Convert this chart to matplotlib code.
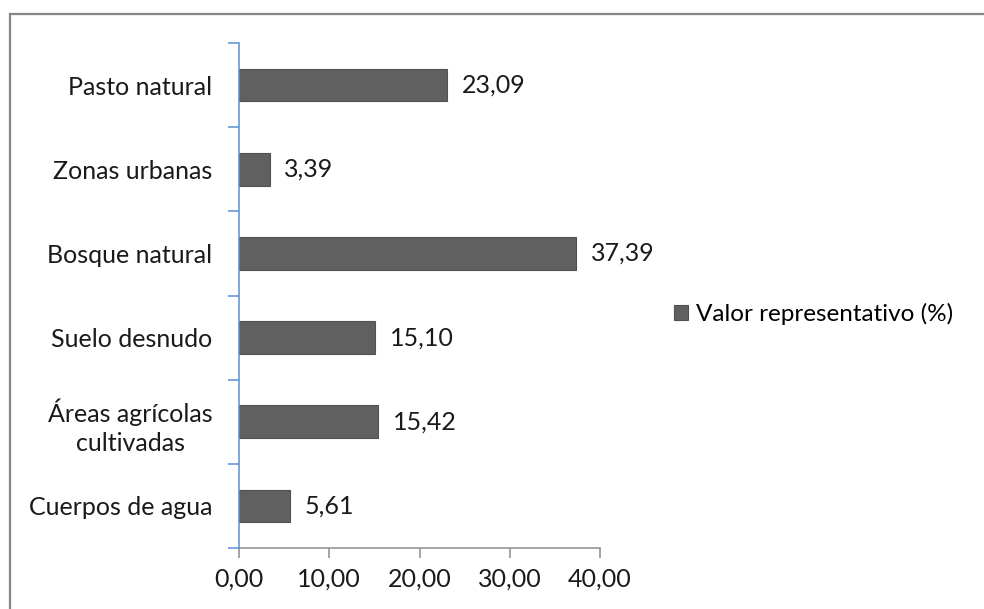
import matplotlib.pyplot as plt
from matplotlib.patches import Rectangle

categories = ["Cuerpos de agua", "Áreas agrícolas\ncultivadas", "Suelo desnudo",
              "Bosque natural", "Zonas urbanas", "Pasto natural"]
values = [5.61, 15.42, 15.10, 37.39, 3.39, 23.09]
xticks = [0, 10, 20, 30, 40]
series_name = "Valor representativo (%)"

plt.rcParams['font.family'] = ['Lato', 'DejaVu Sans']

fig = plt.figure(figsize=(9.84, 6.09), dpi=100)
ax = fig.add_axes([239/984, 1 - 548/609, 361/984, 505/609])

# chart frame like Excel
fig.patches.append(Rectangle((10/984, -0.1), 1.2, 1 - 14/609 + 0.1, transform=fig.transFigure,
                             fill=False, edgecolor='#868686', linewidth=1.6))

y = range(len(categories))
bars = ax.barh(y, values, height=0.39, color='#606060', edgecolor='#505050',
               linewidth=0.8, label=series_name)
for yi, v in zip(y, values):
    ax.text(v + 1.6, yi, f"{v:.2f}".replace('.', ','), va='center', ha='left',
            fontsize=18, color='#1a1a1a')

ax.set_xlim(0, 40)
ax.set_ylim(-0.5, len(categories) - 0.5)
ax.set_xticks(xticks)
ax.set_xticklabels([f"{t:.2f}".replace('.', ',') for t in xticks], fontsize=18, color='#1a1a1a')
ax.set_yticks(list(y))
ax.set_yticklabels(categories, fontsize=18, color='#1a1a1a', linespacing=1.3,
                   multialignment='center')
ax.set_yticks([i - 0.5 for i in range(len(categories) + 1)], minor=True)
ax.tick_params(axis='y', which='major', length=0, pad=19)
ax.tick_params(axis='y', which='minor', length=8, color='#5b8fd1', width=1.1)
ax.tick_params(axis='x', length=7, color='#8c8c8c', width=1.1, pad=7)

for s in ['top', 'right']:
    ax.spines[s].set_visible(False)
ax.spines['left'].set_color('#5b8fd1')
ax.spines['left'].set_linewidth(1.1)
ax.spines['bottom'].set_color('#8c8c8c')
ax.spines['bottom'].set_linewidth(1.1)
ax.spines['left'].set_zorder(3)

fig.legend(handles=[bars], labels=[series_name], loc='center left',
           bbox_to_anchor=(652/984, 1 - 314/609), frameon=False, fontsize=17.5,
           handlelength=0.6, handleheight=0.6, handletextpad=0.3)

fig.savefig("out.png", dpi=100)
